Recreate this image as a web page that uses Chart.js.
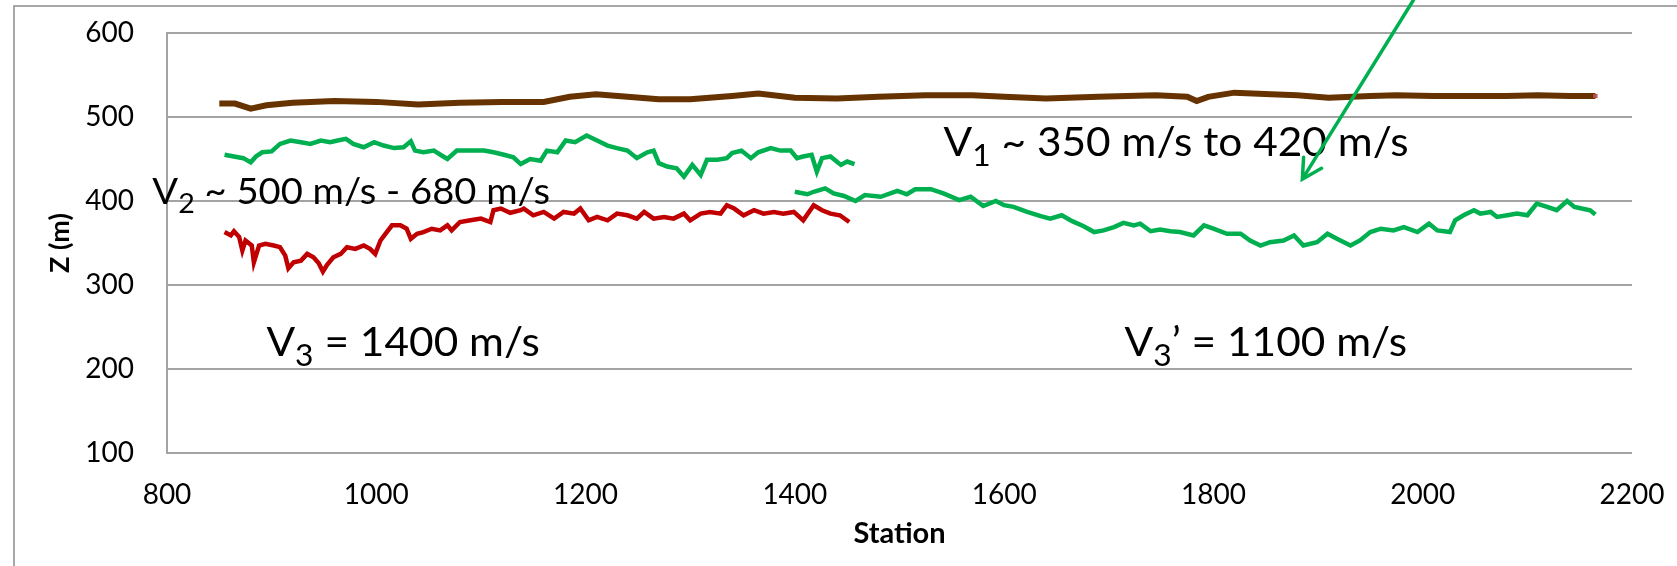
<!DOCTYPE html>
<html>
<head>
<meta charset="utf-8">
<script src="https://cdn.jsdelivr.net/npm/chart.js@4.4.1/dist/chart.umd.min.js"></script>
<style>
  html, body { margin: 0; padding: 0; background: #fff; }
</style>
</head>
<body>
<canvas id="profile" width="1677" height="566"></canvas>
<script>
// layer boundaries along the line: station (m) vs elevation Z (m)

// top of V1 layer (surface)
const surfStation = [850, 865, 880, 895, 920, 960, 1000, 1040, 1080, 1120, 1160, 1185, 1210, 1240, 1270,
  1300, 1340, 1365, 1400, 1440, 1480, 1525, 1570, 1600, 1640, 1690, 1745, 1775, 1784, 1795, 1820, 1855,
  1880, 1910, 1950, 1975, 2010, 2045, 2080, 2110, 2140, 2165];
const surfZ = [516, 516, 510, 514, 517, 519, 518, 515, 517, 518, 518, 524, 527, 524, 521,
  521, 525, 528, 523, 522, 524, 526, 526, 524, 522, 524, 526, 524, 519, 524, 529, 527,
  526, 523, 525, 526, 525, 525, 525, 526, 525, 525];

// V1 / V2 interface, west part
const v2Station = [855, 864, 873, 880, 885, 891, 900, 908, 918, 928, 937, 947, 956, 963, 971, 978, 988,
  998, 1007, 1017, 1026, 1033, 1037, 1045, 1055, 1064, 1068, 1077, 1090, 1103, 1112, 1122, 1131, 1138,
  1147, 1157, 1163, 1173, 1181, 1190, 1201, 1211, 1221, 1230, 1240, 1249, 1259, 1265, 1270, 1278, 1287,
  1294, 1302, 1310, 1316, 1326, 1335, 1340, 1349, 1358, 1365, 1377, 1386, 1396, 1402, 1408, 1416, 1421,
  1426, 1434, 1444, 1450, 1457];
const v2Z = [455, 453, 451, 446, 453, 458, 459, 468, 472, 470, 468, 472, 470, 472, 474, 468, 464,
  470, 466, 463, 464, 471, 460, 458, 460, 453, 450, 460, 460, 460, 458, 455, 452, 444,
  450, 448, 460, 458, 472, 470, 478, 472, 466, 463, 460, 451, 458, 460, 445, 441, 439,
  429, 443, 431, 449, 449, 451, 457, 460, 451, 458, 463, 460, 460, 451, 453, 455, 435,
  451, 453, 443, 447, 444];

// V1 / V2 interface, east part
const v2eStation = [1400, 1412, 1418, 1429, 1437, 1447, 1458, 1467, 1482, 1498, 1507, 1515, 1530, 1542,
  1557, 1568, 1580, 1592, 1600, 1609, 1622, 1635, 1644, 1655, 1665, 1676, 1686, 1695, 1705, 1714, 1724,
  1730, 1740, 1749, 1759, 1768, 1781, 1791, 1800, 1813, 1826, 1835, 1845, 1854, 1867, 1877, 1886, 1899,
  1909, 1918, 1931, 1940, 1950, 1960, 1972, 1982, 1995, 2006, 2014, 2026, 2031, 2039, 2049, 2055, 2065,
  2071, 2081, 2090, 2100, 2109, 2119, 2128, 2138, 2145, 2152, 2160, 2165];
const v2eZ = [411, 408, 411, 415, 409, 406, 400, 407, 405, 412, 408, 414, 414, 409,
  401, 405, 394, 400, 395, 393, 387, 382, 379, 383, 376, 370, 363, 365, 369, 374, 371,
  373, 364, 366, 364, 363, 359, 371, 367, 361, 361, 353, 347, 351, 353, 359, 347, 351,
  361, 355, 347, 353, 363, 367, 365, 369, 363, 373, 365, 363, 377, 383, 389, 385, 387,
  381, 383, 385, 383, 397, 393, 389, 400, 393, 391, 389, 384];

// V2 / V3 interface
const v3Station = [855, 861, 864, 869, 872, 875, 881, 883, 888, 894, 902, 908, 913, 916, 921, 928, 934,
  940, 945, 949, 953, 959, 966, 972, 980, 988, 994, 999, 1004, 1010, 1015, 1023, 1029, 1033, 1039, 1045,
  1053, 1061, 1068, 1072, 1080, 1090, 1100, 1109, 1112, 1119, 1128, 1138, 1141, 1150, 1160, 1170, 1179,
  1189, 1195, 1203, 1211, 1221, 1230, 1240, 1249, 1256, 1265, 1275, 1284, 1294, 1300, 1310, 1319, 1329,
  1335, 1342, 1351, 1361, 1370, 1380, 1389, 1399, 1408, 1418, 1426, 1434, 1443, 1452];
const v3Z = [363, 359, 364, 357, 341, 353, 347, 327, 347, 349, 347, 345, 335, 320, 327, 329, 337,
  333, 326, 316, 324, 333, 337, 345, 343, 347, 343, 337, 353, 363, 371, 371, 367, 355, 361, 363,
  367, 365, 371, 365, 375, 377, 379, 375, 389, 391, 386, 389, 391, 383, 387, 379, 387,
  385, 391, 377, 381, 377, 385, 383, 379, 387, 379, 381, 379, 385, 377, 385, 387, 385,
  395, 391, 383, 389, 385, 387, 385, 387, 377, 395, 389, 385, 383, 375];

const xTicks = { min: 800, max: 2200, step: 200 };
const yTicks = { min: 100, max: 600, step: 100 };

function pts(xs, ys) {
  return xs.map((x, i) => ({ x: x, y: ys[i] }));
}

const GRID = '#a3a3a3';
const GREEN = '#00b050';

// velocity labels, anchored in data units
const notes = [
  { x: 786, z: 396, size: 36, sub: '2', rest: ' ~ 500 m/s - 680 m/s' },
  { x: 1542, z: 453, size: 40, sub: '1', rest: ' ~ 350 m/s to 420 m/s' },
  { x: 895, z: 216, size: 40, sub: '3', rest: ' = 1400 m/s' },
  { x: 1715, z: 216, size: 40, sub: '3', rest: '\u2019 = 1100 m/s' }
];

const overlay = {
  id: 'overlay',
  beforeDraw(chart) {
    const ctx = chart.ctx;
    ctx.save();
    ctx.strokeStyle = '#8c8c8c';
    ctx.lineWidth = 1.5;
    ctx.strokeRect(14, 6, 1800, 700);
    ctx.restore();
  },
  afterDatasetsDraw(chart) {
    const ctx = chart.ctx;
    const sx = chart.scales.x, sy = chart.scales.y;
    ctx.save();
    ctx.fillStyle = '#000';
    ctx.textBaseline = 'alphabetic';
    notes.forEach(n => {
      const subSize = Math.round(n.size * 0.74);
      const drop = Math.round(n.size * 0.26);
      ctx.save();
      ctx.translate(sx.getPixelForValue(n.x), sy.getPixelForValue(n.z));
      ctx.scale(1.06, 1);
      let px = 0;
      ctx.font = n.size + 'px Lato';
      ctx.fillText('V', px, 0);
      px += ctx.measureText('V').width;
      ctx.font = subSize + 'px Lato';
      ctx.fillText(n.sub, px, drop);
      px += ctx.measureText(n.sub).width;
      ctx.font = n.size + 'px Lato';
      ctx.fillText(n.rest, px, 0);
      ctx.restore();
    });

    // arrow pointing down to the V1 label
    const x0 = sx.getPixelForValue(1991), y0 = sy.getPixelForValue(639);
    const x1 = sx.getPixelForValue(1885), y1 = sy.getPixelForValue(426);
    const ang = Math.atan2(y0 - y1, x0 - x1);
    const len = 22, spread = 0.5;
    ctx.strokeStyle = GREEN;
    ctx.lineWidth = 3.5;
    ctx.lineCap = 'round';
    ctx.beginPath();
    ctx.moveTo(x0, y0);
    ctx.lineTo(x1, y1);
    ctx.moveTo(x1 + len * Math.cos(ang - spread), y1 + len * Math.sin(ang - spread));
    ctx.lineTo(x1, y1);
    ctx.lineTo(x1 + len * Math.cos(ang + spread), y1 + len * Math.sin(ang + spread));
    ctx.stroke();
    ctx.restore();
  }
};

const lastSurf = surfStation.length - 1;
const plain = v => String(v);

new Chart(document.getElementById('profile'), {
  type: 'scatter',
  data: {
    datasets: [
      {
        data: pts(surfStation, surfZ),
        showLine: true,
        borderColor: '#663300',
        borderWidth: 6,
        pointRadius: c => c.dataIndex === lastSurf ? 3 : 0,
        pointStyle: 'rect',
        pointBackgroundColor: '#c0504d',
        pointBorderWidth: 0
      },
      { data: pts(v2Station, v2Z), showLine: true, borderColor: GREEN, borderWidth: 4.5, pointRadius: 0 },
      { data: pts(v2eStation, v2eZ), showLine: true, borderColor: GREEN, borderWidth: 4.5, pointRadius: 0 },
      { data: pts(v3Station, v3Z), showLine: true, borderColor: '#c00000', borderWidth: 4.5, pointRadius: 0 }
    ]
  },
  options: {
    responsive: false,
    animation: false,
    layout: { padding: { top: 33, right: 45, left: 0, bottom: 0 } },
    plugins: { legend: { display: false }, tooltip: { enabled: false } },
    scales: {
      x: {
        type: 'linear',
        min: xTicks.min,
        max: xTicks.max,
        ticks: { stepSize: xTicks.step, padding: 25, maxRotation: 0, color: '#000', callback: plain, font: { family: 'Lato', size: 28 } },
        grid: { display: false, drawTicks: false },
        border: { display: false },
        title: { display: true, text: 'Station', color: '#000', font: { family: 'Lato', size: 29, weight: 'bold' }, padding: { top: 0, bottom: 15 } },
        afterFit: s => { s.height = 113; s.paddingLeft = 0; s.paddingRight = 0; }
      },
      y: {
        min: yTicks.min,
        max: yTicks.max,
        ticks: { stepSize: yTicks.step, padding: 33, color: '#000', callback: plain, font: { family: 'Lato', size: 28 } },
        grid: { color: GRID, lineWidth: 2, drawTicks: false },
        border: { color: GRID, width: 2 },
        title: { display: true, text: 'Z (m)', color: '#000', font: { family: 'Lato', size: 27, weight: 'bold' }, padding: { top: 44, bottom: 0 } },
        afterFit: s => { s.width = 167; s.paddingTop = 0; s.paddingBottom = 0; }
      }
    }
  },
  plugins: [overlay]
});
</script>
</body>
</html>
